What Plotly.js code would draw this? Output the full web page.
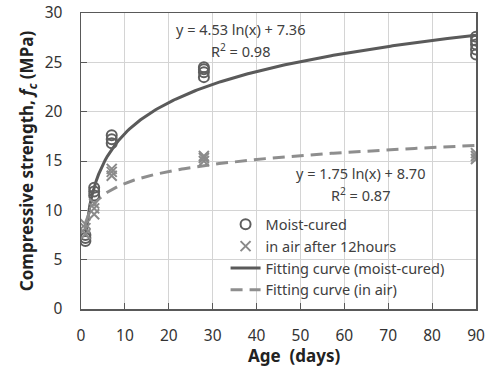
<!DOCTYPE html>
<html>
<head>
<meta charset="utf-8">
<script src="https://cdn.plot.ly/plotly-3.0.1.min.js"></script>
<style>
  html, body { margin: 0; padding: 0; background: #fff; }
  #chart { width: 490px; height: 367px; }
</style>
</head>
<body>
<div id="chart"></div>
<script>
// Compressive strength measurements (MPa) by curing age (days)
const moistAge      = [1, 1, 1, 3, 3, 3, 7, 7, 7, 28, 28, 28, 28, 90, 90, 90, 90, 90];
const moistStrength = [6.9, 7.2, 7.5, 11.5, 11.9, 12.3, 16.8, 17.2, 17.6, 23.5, 24.0, 24.3, 24.5, 25.8, 26.3, 26.8, 27.2, 27.6];

const airAge      = [1, 1, 1, 3, 3, 3, 7, 7, 7, 28, 28, 28, 90, 90, 90];
const airStrength = [7.6, 8.2, 8.6, 9.6, 10.2, 10.7, 13.5, 13.9, 14.2, 15.0, 15.3, 15.5, 15.2, 15.5, 15.8];

// Logarithmic fit coefficients: y = a ln(x) + b, and R²
const moistFit = [4.53, 7.36, 0.98];
const airFit   = [1.75, 8.70, 0.87];

// Age values at which the fitted curves are traced
const fitAge = [];
for (let d = 1; d <= 90; d += 0.5) fitAge.push(d);
const fitValues = (c) => fitAge.map(d => c[0] * Math.log(d) + c[1]);

const textFont = { family: 'Noto Sans, Open Sans, sans-serif', size: 14.5, color: '#404040' };

const traces = [
  {
    x: fitAge, y: fitValues(moistFit), mode: 'lines', type: 'scatter',
    name: 'Fitting curve (moist-cured)', legendrank: 3, legendgroup: 'c',
    line: { color: '#5a5a5a', width: 3 }
  },
  {
    x: fitAge, y: fitValues(airFit), mode: 'lines', type: 'scatter',
    name: 'Fitting curve (in air)', legendrank: 4, legendgroup: 'd',
    line: { color: '#8e8e8e', width: 3, dash: '12px,7px' }
  },
  {
    x: moistAge, y: moistStrength, mode: 'markers', type: 'scatter',
    name: 'Moist-cured', legendrank: 1, legendgroup: 'a',
    marker: { symbol: 'circle-open', size: 10, color: '#5f5f5f', line: { width: 2 } }
  },
  {
    x: airAge, y: airStrength, mode: 'markers', type: 'scatter',
    name: 'in air after 12hours', legendrank: 2, legendgroup: 'b',
    marker: { symbol: 'x-thin-open', size: 10, color: '#8a8a8a', line: { width: 2 } }
  }
];

const fmt = (v) => v.toFixed(2);
const layout = {
  width: 490, height: 367,
  margin: { l: 81, r: 14, t: 13, b: 58 },
  paper_bgcolor: '#fff', plot_bgcolor: '#fff',
  font: { family: 'Noto Sans, Open Sans, sans-serif', color: '#404040' },
  showlegend: true,
  legend: {
    x: 0.366, y: 0.34, xanchor: 'left', yanchor: 'top',
    bgcolor: 'rgba(0,0,0,0)', font: textFont,
    traceorder: 'grouped', tracegroupgap: 0, itemwidth: 30
  },
  xaxis: {
    range: [0, 90], dtick: 10, tick0: 0,
    showgrid: true, gridcolor: '#d4d4d4', gridwidth: 1,
    zeroline: false, showline: true, linecolor: '#595959', linewidth: 1.5, mirror: true,
    ticks: 'inside', ticklen: 6, tickcolor: '#595959', ticklabelstandoff: 12,
    tickfont: { size: 15.5, color: '#333' }, fixedrange: true
  },
  yaxis: {
    range: [0, 30], dtick: 5, tick0: 0,
    showgrid: true, gridcolor: '#d4d4d4', gridwidth: 1,
    zeroline: false, showline: true, linecolor: '#595959', linewidth: 1.5, mirror: true,
    ticks: 'inside', ticklen: 6, tickcolor: '#595959', ticklabelstandoff: 14,
    tickfont: { size: 15.5, color: '#333' }, fixedrange: true,
    title: {
      text: '<b>Compressive strength, <i>f<sub>c</sub></i> (MPa)</b>',
      font: { size: 17, color: '#222' }, standoff: 6
    }
  },
  annotations: [
    {
      xref: 'paper', yref: 'paper', x: 0.54, y: -0.118, xanchor: 'center', yanchor: 'middle',
      text: '<b>Age  (days)</b>', showarrow: false, font: { size: 17, color: '#222' },
      yshift: -12
    },
    {
      xref: 'x', yref: 'y', x: 36.3, y: 28.4, showarrow: false,
      text: 'y = ' + fmt(moistFit[0]) + ' ln(x) + ' + fmt(moistFit[1]), font: textFont
    },
    {
      xref: 'x', yref: 'y', x: 36.3, y: 26.2, showarrow: false,
      text: 'R<sup>2</sup> = ' + fmt(moistFit[2]), font: textFont
    },
    {
      xref: 'x', yref: 'y', x: 63.6, y: 13.8, showarrow: false,
      text: 'y = ' + fmt(airFit[0]) + ' ln(x) + ' + fmt(airFit[1]), font: textFont
    },
    {
      xref: 'x', yref: 'y', x: 63.6, y: 11.6, showarrow: false,
      text: 'R<sup>2</sup> = ' + fmt(airFit[2]), font: textFont
    }
  ]
};

Plotly.newPlot('chart', traces, layout, { displayModeBar: false, staticPlot: true });
</script>
</body>
</html>
